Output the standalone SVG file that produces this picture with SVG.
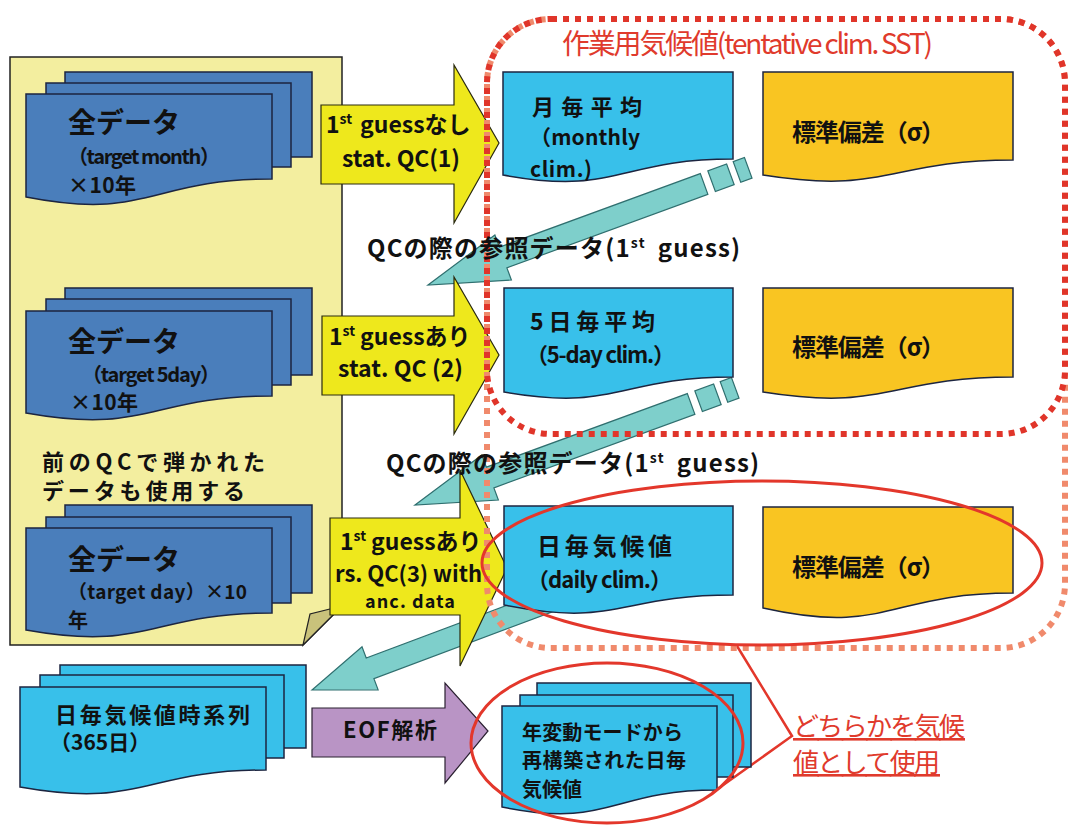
<svg xmlns="http://www.w3.org/2000/svg" width="1069" height="826" viewBox="0 0 1069 826">
<style>
text{font-family:"Noto Sans CJK JP","Noto Sans",sans-serif;fill:#111;font-weight:bold}
.sheetB{fill:#4a7ebb;stroke:#1c2540;stroke-width:1.5}
.sheetC{fill:#38c0ea;stroke:#1c2540;stroke-width:1.5}
.sheetO{fill:#f9c522;stroke:#1c2540;stroke-width:1.5}
.yarrow{fill:#eee81c;stroke:#2a2a10;stroke-width:1.2}
.teal{fill:#7ecfcb;stroke:#2f6f6f;stroke-width:1.2}
.red{fill:#e03a2c;font-weight:normal}
.dotR{fill:none;stroke:#e0352a;stroke-width:6;stroke-dasharray:6 6}
.dotS{fill:none;stroke:#f08a6c;stroke-width:6;stroke-dasharray:6 6}
.ell{fill:none;stroke:#e3372b;stroke-width:3}
</style>
<rect width="1069" height="826" fill="#fff"/>

<g id="panel">
<path d="M10,57 H342 V606 L303,645 H10 Z" fill="#f3ee9f" stroke="#222" stroke-width="1.5"/>
<path d="M303,645 L310,614 L342,606 Z" fill="#c9c27b" stroke="#222" stroke-width="1.2"/>
</g>

<g id="stack-month">
<rect class="sheetB" x="65" y="72" width="247" height="85"/>
<rect class="sheetB" x="46" y="83" width="245" height="84"/>
<path class="sheetB" d="M26,94 H272 V179 C149,179 149,221 26,197 Z"/>
<text x="68" y="133" font-size="28" textLength="112">全データ</text>
<text x="68" y="164" font-size="20" textLength="152">（target month）</text>
<text x="68" y="193" font-size="21" textLength="68">×10年</text>
</g>

<g id="stack-5day">
<rect class="sheetB" x="65" y="288" width="247" height="87"/>
<rect class="sheetB" x="46" y="299" width="245" height="86"/>
<path class="sheetB" d="M26,311 H272 V396 C149,396 149,435 26,413 Z"/>
<text x="68" y="352" font-size="28" textLength="112">全データ</text>
<text x="82" y="382" font-size="20" textLength="138">（target 5day）</text>
<text x="70" y="410" font-size="21" textLength="68">×10年</text>
</g>

<g id="note">
<text x="42" y="470" font-size="22" textLength="223">前のQCで弾かれた</text>
<text x="42" y="499" font-size="22" textLength="203">データも使用する</text>
</g>

<g id="stack-day">
<rect class="sheetB" x="65" y="505" width="247" height="88"/>
<rect class="sheetB" x="46" y="517" width="245" height="86"/>
<path class="sheetB" d="M26,528 H272 V613 C149,613 149,652 26,630 Z"/>
<text x="68" y="570" font-size="28" textLength="112">全データ</text>
<text x="68" y="599" font-size="19" textLength="179">（target day）×10</text>
<text x="68" y="628" font-size="20">年</text>
</g>

<g id="connectors">
<g class="teal" transform="translate(428,285) rotate(-20.1)">
<path d="M0,0 L80,-24 L80,-11 L294,-11 L294,11 L80,11 L80,24 Z"/>
<rect x="302" y="-11" width="20" height="22"/>
<rect x="329" y="-11" width="12" height="22"/>
</g>
<g class="teal" transform="translate(415,505) rotate(-20.1)">
<path d="M0,0 L80,-24 L80,-11 L294,-11 L294,11 L80,11 L80,24 Z"/>
<rect x="302" y="-11" width="20" height="22"/>
<rect x="329" y="-11" width="12" height="22"/>
</g>
<g class="teal" transform="translate(312,690) rotate(-20.5)">
<path d="M0,0 L62,-23 L62,-11 L294,-11 L294,11 L62,11 L62,23 Z"/>
<rect x="302" y="-11" width="20" height="22"/>
<rect x="329" y="-11" width="12" height="22"/>
</g>
<path d="M737,646 L792,736 L712,793" fill="none" stroke="#e3372b" stroke-width="2.5"/>
</g>

<g id="qc1">
<path class="yarrow" d="M321,105 H454 V65 L499,143 L454,223 V184 H321 Z"/>
<text x="326" y="133" font-size="23">1<tspan font-size="14" dy="-9">st</tspan><tspan dy="9" dx="8">guessなし</tspan></text>
<text x="342" y="167" font-size="23" textLength="118">stat. QC(1)</text>
</g>
<g id="qc2">
<path class="yarrow" d="M322,316 H454 V277 L499,355 L454,434 V395 H322 Z"/>
<text x="329" y="345" font-size="23">1<tspan font-size="14" dy="-9">st</tspan><tspan dy="9" dx="5">guessあり</tspan></text>
<text x="338" y="377" font-size="23" textLength="125">stat. QC (2)</text>
</g>
<g id="qc3">
<path class="yarrow" d="M330,518 H460 V470 L507,568 L460,666 V615 H330 Z"/>
<text x="340" y="550" font-size="23">1<tspan font-size="14" dy="-9">st</tspan><tspan dy="9" dx="5">guessあり</tspan></text>
<text x="335" y="582" font-size="22" textLength="147">rs. QC(3) with</text>
<text x="365" y="608" font-size="18" textLength="90">anc. data</text>
</g>

<g id="eof">
<path d="M312,708 H445 V683 L488,731 L445,783 V757 H312 Z" fill="#b994c5" stroke="#2a2030" stroke-width="1.2"/>
<text x="343" y="738" font-size="22" textLength="94">EOF解析</text>
</g>

<g id="monthly">
<path class="sheetC" d="M503,72 H733 V159 C618,159 618,196 503,175 Z"/>
<text x="532" y="115" font-size="22" textLength="110">月毎平均</text>
<text x="530" y="145" font-size="21" textLength="110">（monthly</text>
<text x="530" y="177" font-size="21" textLength="62">clim.)</text>
</g>
<g id="sd1">
<path class="sheetO" d="M763,72 H1013 V160 C888,160 888,195 763,175 Z"/>
<text x="792" y="141" font-size="24" textLength="153">標準偏差（σ）</text>
</g>

<g id="fiveday">
<path class="sheetC" d="M504,288 H733 V377 C618,377 618,412 504,392 Z"/>
<text x="530" y="330" font-size="23" textLength="125">5日毎平均</text>
<text x="526" y="363" font-size="22" textLength="149">（5-day clim.）</text>
</g>
<g id="sd2">
<path class="sheetO" d="M763,288 H1013 V377 C888,377 888,412 763,392 Z"/>
<text x="792" y="356" font-size="24" textLength="153">標準偏差（σ）</text>
</g>

<g id="daily">
<path class="sheetC" d="M504,506 H733 V595 C618,595 618,628 504,605 Z"/>
<text x="537" y="555" font-size="24" textLength="135">日毎気候値</text>
<text x="527" y="588" font-size="22" textLength="145">（daily clim.）</text>
</g>
<g id="sd3">
<path class="sheetO" d="M763,507 H1013 V593 C888,593 888,636 763,608 Z"/>
<text x="792" y="576" font-size="24" textLength="153">標準偏差（σ）</text>
</g>

<g id="series">
<rect class="sheetC" x="60" y="665" width="246" height="83"/>
<rect class="sheetC" x="40" y="675" width="244" height="83"/>
<path class="sheetC" d="M20,687 H266 V770 C143,770 143,809 20,787 Z"/>
<text x="55" y="723" font-size="22" textLength="195">日毎気候値時系列</text>
<text x="50" y="750" font-size="21">（365日）</text>
</g>

<g id="recon">
<rect class="sheetC" x="537" y="683" width="214" height="84"/>
<rect class="sheetC" x="520" y="695" width="213" height="82"/>
<path class="sheetC" d="M502,706 H717 V790 C610,790 610,829 502,807 Z"/>
<text x="522" y="740" font-size="20" textLength="161">年変動モードから</text>
<text x="522" y="768" font-size="20" textLength="164">再構築された日毎</text>
<text x="522" y="797" font-size="20" textLength="60">気候値</text>
</g>

<g id="tentative">
<rect class="dotS" x="487" y="19" width="578" height="629" rx="64"/>
<rect class="dotR" x="487" y="19" width="578" height="415" rx="64"/>
<text class="red" x="562" y="54" font-size="28" textLength="371">作業用気候値(tentative clim. SST)</text>
</g>

<g id="ellipses">
<ellipse class="ell" cx="762" cy="563" rx="280" ry="82"/>
<ellipse class="ell" cx="607" cy="743" rx="136" ry="80"/>
</g>

<g id="labels">
<text x="367" y="257" font-size="24" letter-spacing="1.2">QCの際の参照データ(1<tspan font-size="14" dy="-9">st</tspan><tspan dy="9" dx="12">guess)</tspan></text>
<text x="386" y="472" font-size="24" letter-spacing="1.2">QCの際の参照データ(1<tspan font-size="14" dy="-9">st</tspan><tspan dy="9" dx="12">guess)</tspan></text>
</g>

<g id="callout">
<text class="red" x="793" y="736" font-size="26" textLength="172" text-decoration="underline">どちらかを気候</text>
<text class="red" x="793" y="772" font-size="26" textLength="147" text-decoration="underline">値として使用</text>
</g>
</svg>
